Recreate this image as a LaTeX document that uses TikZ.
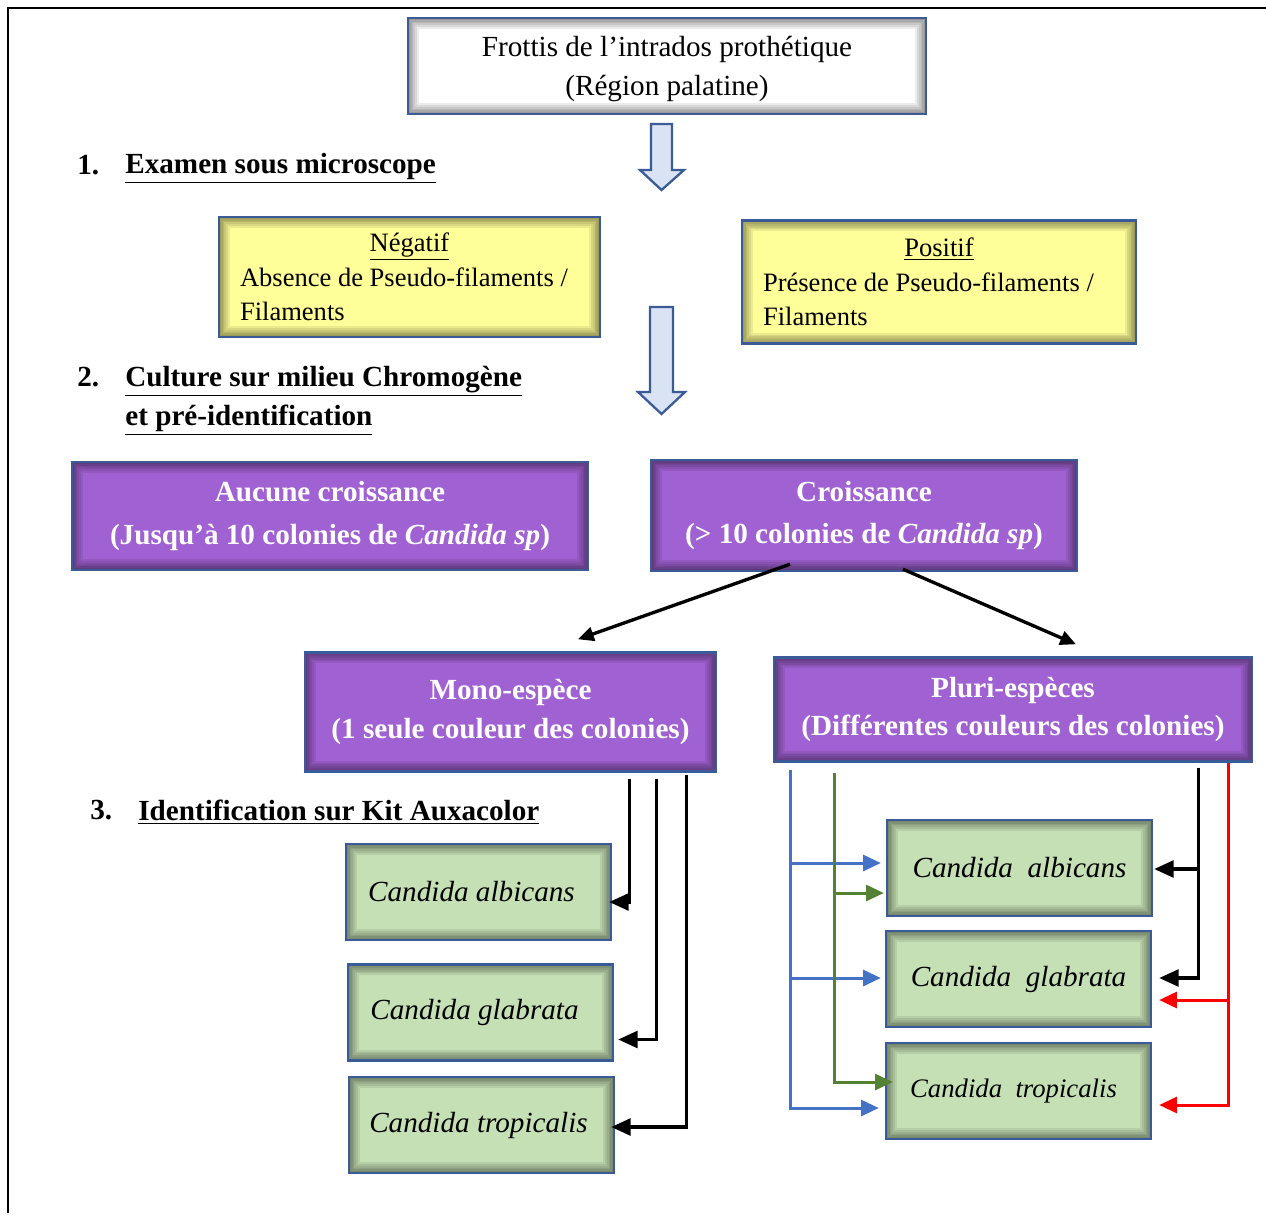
\documentclass[tikz,border=0pt]{standalone}
\usepackage{fontspec}
\setmainfont{Liberation Serif}
\usetikzlibrary{arrows.meta,positioning,calc}
\usepackage{xcolor}
\definecolor{Edge}{HTML}{3A5A98}
\definecolor{ArrowFill}{HTML}{DAE3F3}
\definecolor{Lemon}{HTML}{FFFF99}
\definecolor{Violet}{HTML}{A061D2}
\definecolor{Sage}{HTML}{C5E0B4}
\definecolor{LinkBlue}{HTML}{4472C4}
\definecolor{LinkGreen}{HTML}{548235}
\definecolor{LinkRed}{HTML}{FF0000}
\newcommand{\bodyfont}{\fontsize{16.6}{20}\selectfont}
\newcommand{\notefont}{\fontsize{15.1}{19.8}\selectfont}
\tikzset{
  glow/.style={path picture={
      \foreach \k in {1,...,6}
        \draw[black,opacity=0.08,line width=\k*2pt]
          (path picture bounding box.south west) rectangle (path picture bounding box.north east);}},
  box/.style={draw=Edge,line width=1.4pt,inner sep=0pt,glow,font=\bodyfont},
  whitebox/.style={box,fill=white,align=center},
  yellowbox/.style={box,fill=Lemon,align=flush left,font=\notefont,text width=#1},
  violetbox/.style={box,fill=Violet,text=white,font=\bodyfont\bfseries,align=center},
  greenbox/.style={box,fill=Sage,font=\bodyfont\itshape,minimum width=5.3cm,minimum height=1.92cm},
  heading/.style={anchor=west,inner sep=0pt,font=\bodyfont\bfseries,align=left},
  bigarrow/.style={draw=Edge,fill=ArrowFill,line width=1.3pt,line join=miter},
  link/.style={->,line width=1.9pt},
  colorlink/.style={->,line width=1.7pt,draw=#1,>={Triangle[length=10pt,width=9pt]}},
}

\begin{document}
\begin{tikzpicture}[x=0.02cm,y=-0.02cm,>={Triangle[length=11pt,width=9.5pt]}]
\useasboundingbox (0,0) rectangle (1266,1213);
\draw[line width=1.2pt] (8,1213) -- (8,8) -- (1266,8);

% sample and microscope
\node[whitebox,minimum width=10.36cm,minimum height=1.92cm] (smear) at (667,66)
  {\rule{0pt}{15pt}Frottis de l’intrados prothétique\\[2.2pt](Région palatine)};
\draw[bigarrow] (651,124) -- (672,124) -- (672,170) -- (684,170) -- (661.5,190)
  -- (640,170) -- (651,170) -- cycle;
\node[heading] (h1num) at (77,165) {1.};
\node[heading] (h1) at (125,168) {\underline{Examen sous microscope}};
\node[yellowbox=6.78cm,minimum width=7.62cm,minimum height=2.4cm] (neg) at (409.5,277)
  {\hspace*{\fill}\underline{Négatif}\hspace*{\fill}\null\\Absence de Pseudo-filaments /\\Filaments};
\node[yellowbox=7.04cm,minimum width=7.88cm,minimum height=2.46cm] (pos) at (939,282)
  {\hspace*{\fill}\underline{Positif}\hspace*{\fill}\null\\Présence de Pseudo-filaments /\\Filaments};
\draw[bigarrow] (650,307) -- (673,307) -- (673,392) -- (685,392) -- (661.5,414)
  -- (638,392) -- (650,392) -- cycle;

% culture
\node[heading] (h2num) at (77,377) {2.};
\node[heading] (h2) at (125,401)
  {\underline{Culture sur milieu Chromogène}\\[2pt]\underline{et pré-identification}};
\node[violetbox,minimum width=10.32cm,minimum height=2.16cm] (none) at (330,516)
  {Aucune croissance\\[4.4pt](Jusqu’à 10 colonies de \textit{Candida sp})};
\node[violetbox,minimum width=8.52cm,minimum height=2.22cm] (grow) at (864,515.5)
  {Croissance\\[4.4pt](> 10 colonies de \textit{Candida sp})};
\node[violetbox,minimum width=8.22cm,minimum height=2.38cm] (mono) at (510.5,712)
  {Mono-espèce\\[2pt](1 seule couleur des colonies)};
\node[violetbox,minimum width=9.56cm,minimum height=2.08cm] (pluri) at (1013,709.5)
  {Pluri-espèces\\[2pt](Différentes couleurs des colonies)};
\draw[link,>={Triangle[length=9pt,width=8pt]}] ($(grow.south)+(-74,-8)$) -- ($(mono.north)+(67.5,-12)$);
\draw[link,>={Triangle[length=9pt,width=8pt]}] ($(grow.south)+(39,-3)$) -- ($(pluri.north)+(63,-12)$);

% identification
\node[heading] (h3num) at (90,810) {3.};
\node[heading] (h3) at (138,812) {\underline{Identification sur Kit Auxacolor}};
\node[greenbox] (lca) at (478.5,892) {Candida albicans\hspace{0.28cm}\null};
\node[greenbox] (lcg) at (480.5,1012.5) {Candida glabrata\hspace{0.24cm}\null};
\node[greenbox] (lct) at (481.5,1125) {Candida tropicalis\hspace{0.12cm}\null};
\node[greenbox] (rca) at (1019.5,868) {Candida\ \ albicans};
\node[greenbox] (rcg) at (1018.5,979) {Candida\ \ glabrata};
\node[greenbox,font=\fontsize{15.2}{18}\selectfont\itshape] (rct) at (1018.5,1091) {Candida\ \ tropicalis\hspace{0.2cm}\null};

\draw[link] ($(mono.south east)+(-88,6)$) |- ($(lca.east)+(-3,10)$);
\draw[link] ($(mono.south east)+(-61,6)$) |- ($(lcg.east)+(4,27)$);
\draw[link] ($(mono.south east)+(-31,2)$) |- ($(lct.east)+(-4,2)$);

\draw[colorlink=LinkBlue] ($(pluri.south west)+(18,7)$) |- ($(rca.west)+(-5,-5)$);
\draw[colorlink=LinkBlue] ($(pluri.south west)+(18,7)$) |- ($(rcg.west)+(-4,-1)$);
\draw[colorlink=LinkBlue] ($(pluri.south west)+(18,7)$) |- ($(rct.west)+(-6,17)$);
\draw[colorlink=LinkGreen] ($(pluri.south west)+(62,10)$) |- ($(rca.west)+(-2,25)$);
\draw[colorlink=LinkGreen] ($(pluri.south west)+(62,10)$) |- ($(rct.west)+(8,-9)$);
\draw[link] ($(pluri.south east)+(-55,5)$) |- ($(rca.east)+(1,1)$);
\draw[link] ($(pluri.south east)+(-55,5)$) |- ($(rcg.east)+(7,-1)$);
\draw[colorlink=LinkRed] ($(pluri.south east)+(-25,0)$) |- ($(rcg.east)+(7,21)$);
\draw[colorlink=LinkRed] ($(pluri.south east)+(-25,0)$) |- ($(rct.east)+(7,14)$);
\end{tikzpicture}
\end{document}
